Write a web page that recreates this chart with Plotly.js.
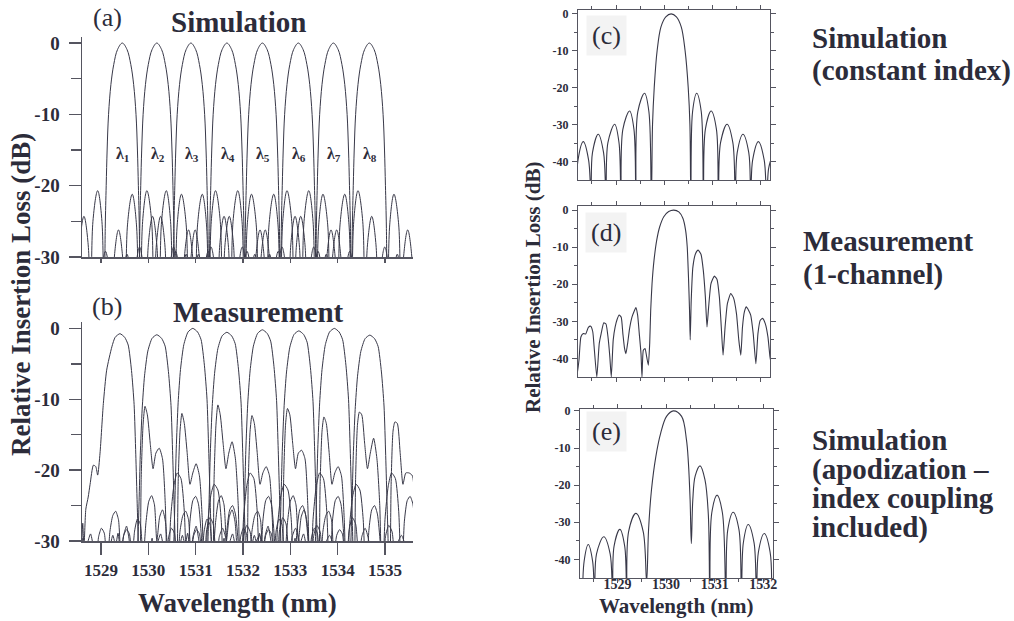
<!DOCTYPE html>
<html>
<head>
<meta charset="utf-8">
<script src="https://cdn.plot.ly/plotly-3.0.1.min.js"></script>
<style>html,body{margin:0;padding:0;background:#fff}#chart{width:1014px;height:621px}</style>
</head>
<body>
<div id="chart"></div>
<script>
// ---------------- DATA ----------------
// Panel (a): simulated 8-channel response
const chanLabels = ['λ<sub>1</sub>','λ<sub>2</sub>','λ<sub>3</sub>','λ<sub>4</sub>','λ<sub>5</sub>','λ<sub>6</sub>','λ<sub>7</sub>','λ<sub>8</sub>'];
const aCenters = [1529.45, 1530.18, 1530.90, 1531.66, 1532.41, 1533.17, 1533.91, 1534.67];
const aParity  = [0, 1, 0, 1, 0, 1, 0, 1];
// channel shape: offset from channel centre (nm)
const simOffsets = [-1.50,-1.42,-1.35,-1.28,-1.22,-1.17,-1.085,-1.00,-0.95,-0.90,-0.81,-0.72,-0.66,-0.62,-0.52,-0.43,-0.39,-0.36,-0.34,-0.32,-0.29,-0.24,-0.18,-0.10,0,
                     0.10,0.18,0.24,0.29,0.32,0.34,0.36,0.39,0.43,0.52,0.62,0.66,0.72,0.81,0.90,0.95,1.00,1.085,1.17,1.22,1.28,1.35,1.42,1.50];
const simOddDb  = [-45,-32.5,-29.6,-32.5,-45,-32,-28.6,-32,-45,-28.3,-24.3,-28.3,-45,-25,-20.7,-25,-45,-26,-20,-15,-10,-5.8,-3,-0.9,0,
                   -0.9,-3,-5.8,-10,-15,-20,-26,-45,-25,-20.7,-25,-45,-28.3,-24.3,-28.3,-45,-32,-28.6,-32,-45,-32.5,-29.6,-32.5,-45];
const simEvenDb = [-45,-33,-30.2,-33,-45,-32.5,-29.2,-32.5,-45,-30.2,-26.2,-30.2,-45,-25.5,-21.2,-25.5,-45,-26,-20,-15,-10,-5.8,-3,-0.9,0,
                   -0.9,-3,-5.8,-10,-15,-20,-26,-45,-25.5,-21.2,-25.5,-45,-30.2,-26.2,-30.2,-45,-32.5,-29.2,-32.5,-45,-33,-30.2,-33,-45];

// Panel (b): measured 8-channel response
const bCenters = [1529.40, 1530.18, 1530.94, 1531.66, 1532.41, 1533.18, 1533.93, 1534.68];
const bParity  = [0, 1, 0, 1, 0, 1, 0, 1];
const bPeakDb  = [-0.75, -0.9, 0, -0.55, -0.2, -0.35, 0, -0.95];
const bSide1Db = [-11.0, -12.0, -10.8, -12.3, -11.3, -12.5, -11.8, -13.2];
const bSide2Db = [-16.9, -19.1, -16.0, -19.5, -17.2, -19.5, -15.5, -20.4];
const measOffsets = [-1.75,-1.69,-1.63,-1.58,-1.52,-1.46,-1.40,-1.35,-1.29,-1.23,-1.17,-1.11,-1.05,-0.99,-0.93,-0.87,-0.81,-0.76,-0.70,-0.64,-0.58,-0.52,-0.46,
                     -0.40,-0.375,-0.35,-0.31,-0.26,-0.19,-0.10,0,0.10,0.175,0.245,0.30,0.335,0.365,0.39,0.42,
                     0.45,0.49,0.53,0.58,0.64,0.70,0.76,0.83,0.90,0.96,1.01,1.07,1.14,1.21,1.29,1.36,1.42,1.48,1.54,1.60,1.66,1.72,1.77,1.83,1.90,1.97,2.04,2.10,2.17,2.24,2.30];
const measOddDb = [-31,-29.2,-30.6,-28.9,-31.8,-29.2,-27.9,-29.6,-33,-28.6,-26.9,-27.6,-32.5,-27.4,-24.4,-23.6,-24.9,-30,-26.6,-25.6,-27.2,-33,-40,
                   -30,-23.5,-17,-10.5,-5.8,-2.3,-0.5,0,-0.5,-1.6,-5.2,-10,-17,-24,-30,-40,
                   -21,-13.5,-11,-12.2,-16.2,-19.8,-17.6,-16.5,-18.4,-25,-38,-27,-22.2,-20.4,-21.2,-25.8,-36,-27.2,-24.3,-23.7,-24.8,-29.3,-37,-28.6,-26.7,-27.6,-33,-29.4,-28.2,-29.7,-34];
const measEvenDb = [-31.5,-30,-31.5,-29.6,-33,-30.2,-29,-30.5,-34,-29.4,-28.2,-28.9,-33.5,-28.6,-26.4,-25.8,-27,-32,-29.2,-28.4,-29,-34,-40,
                    -30,-23.5,-17,-10.5,-5.8,-2.3,-0.5,0,-0.5,-1.6,-5.2,-10,-17,-24,-30,-40,
                    -22,-14.5,-12,-13.4,-17.5,-22,-20.4,-19.4,-20.8,-27,-38,-28,-23.6,-22,-22.8,-27,-37,-28.5,-25.6,-25,-26.2,-30.3,-37,-29.4,-27.8,-28.7,-34,-30.1,-29.2,-30.5,-34];
// left flank of channel 1 (visible at the left edge of panel b)
const b1LeftWl = [1528.59,1528.615,1528.64,1528.68,1528.73,1528.77,1528.84,1528.89,1528.93,1528.98,1529.05,1529.12,1529.23];
const b1LeftDb = [-31,-27.5,-31,-25.5,-23.8,-22,-19.3,-19.5,-20.7,-17.6,-10.6,-5.9,-2.6];

// Panel (c): simulation, constant index
const cWl = [1528.18,1528.21,1528.32,1528.43,1528.48,1528.51,1528.63,1528.74,1528.79,1528.83,1528.97,1529.06,1529.10,1529.14,1529.28,1529.37,1529.41,1529.45,1529.59,1529.68,1529.73,
             1529.755,1529.79,1529.85,1529.93,1530.03,1530.14,1530.25,1530.35,1530.43,1530.495,1530.53,1530.55,
             1530.585,1530.67,1530.765,1530.81,1530.85,1530.97,1531.08,1531.12,1531.165,1531.30,1531.42,1531.47,1531.51,1531.63,1531.75,1531.79,1531.83,1531.95,1532.07,1532.12,1532.16,1532.22];
const cDb = [-50,-39.6,-34.6,-39.6,-50,-37.6,-32.6,-37.6,-50,-34.9,-29.9,-34.9,-50,-31.3,-26.3,-31.3,-50,-26.5,-21.5,-26.5,-50,
             -30,-20,-10,-3.5,-0.8,0,-0.8,-3.5,-10,-20,-30,-50,
             -26.5,-21.5,-26.5,-50,-31.3,-26.3,-31.3,-50,-34.9,-29.9,-34.9,-50,-37.6,-32.6,-37.6,-50,-39.6,-34.6,-39.6,-50,-42,-39];

// Panel (d): measurement, 1 channel
const dWl = [1528.148,1528.18,1528.23,1528.27,1528.32,1528.37,1528.425,1528.474,1528.516,1528.55,1528.60,1528.65,1528.69,1528.745,1528.79,1528.835,1528.87,1528.90,
             1528.94,1528.98,1529.02,1529.064,1529.106,1529.14,1529.175,1529.203,1529.238,1529.28,1529.33,1529.37,1529.41,1529.446,1529.48,1529.516,1529.536,
             1529.564,1529.60,1529.634,1529.668,1529.696,1529.717,1529.745,1529.786,1529.842,1529.904,1529.988,1530.09,1530.196,1530.30,1530.384,1530.44,
             1530.474,1530.50,1530.522,1530.536,1530.557,1530.592,1530.648,1530.70,1530.759,1530.807,1530.85,1530.884,1530.918,1530.967,1531.036,1531.092,
             1531.14,1531.18,1531.217,1531.259,1531.307,1531.376,1531.432,1531.495,1531.543,1531.585,1531.62,1531.66,1531.70,1531.745,1531.79,1531.842,
             1531.897,1531.94,1531.988,1532.036,1532.092,1532.147,1532.19,1532.22];
const dDb = [-39.6,-45,-40.5,-34.2,-33.3,-33.4,-31.6,-31.3,-32.8,-37.8,-45,-36,-33.3,-30.4,-30.7,-34.6,-39.6,-45,
             -35,-31.5,-29.5,-28.3,-28.9,-33.3,-37.3,-38.7,-36,-31.9,-28.8,-27.4,-26.3,-28.3,-33.3,-38.7,-45,
             -37.8,-37.3,-39.6,-41.8,-36,-27,-19.8,-13.5,-8.1,-4.5,-1.8,-0.4,0,-0.5,-2.2,-5.4,
             -9.9,-18,-27,-35,-24.3,-15.3,-11.7,-10.8,-11.9,-16.2,-23.4,-31.5,-26.1,-19.8,-17.8,-18.7,
             -23.4,-31.5,-39.1,-31.5,-25.2,-22.5,-23.6,-27.9,-35,-39.1,-31.5,-27.4,-26.1,-27,-28.3,-33.3,
             -41.4,-33.3,-29.7,-29.2,-30.6,-34.2,-39.6,-41.8];

// Panel (e): simulation with apodization and index coupling
const eWl = [1528.285,1528.315,1528.40,1528.49,1528.53,1528.57,1528.72,1528.85,1528.90,1528.93,1529.05,1529.15,1529.19,1529.23,1529.38,1529.53,1529.60,
             1529.64,1529.70,1529.79,1529.89,1530.01,1530.15,1530.32,1530.42,1530.46,1530.495,1530.52,
             1530.55,1530.60,1530.70,1530.80,1530.87,1530.90,1530.94,1531.05,1531.16,1531.23,1531.27,1531.38,1531.50,1531.55,1531.59,1531.69,1531.81,1531.86,1531.90,1532.02,1532.14,1532.17];
const eDb = [-50,-40.5,-36,-40.5,-50,-38.5,-33.9,-38.5,-50,-36.5,-31.9,-36.5,-50,-32.5,-27.6,-32.5,-46,
             -32,-21.3,-12.3,-6,-1.5,0,-1.5,-7.8,-14,-24,-35.7,
             -24,-17.5,-14.8,-18.5,-28,-50,-27.5,-22.7,-27.5,-50,-32,-27.3,-32,-50,-35.5,-30.6,-35.5,-50,-38,-33,-38,-50];

const xTicksBig = [1529,1530,1531,1532,1533,1534,1535];
const xTicksSmall = [1529,1530,1531,1532];
const yTicksBig = [0,-10,-20,-30];
const yTicksSmall = [0,-10,-20,-30,-40];

// ---------------- STYLE ----------------
const W = 1014, H = 621;
const FONT = '"Liberation Serif", "Times New Roman", serif';
const AX = '#555560';
const TXT = '#2c2c3a';
const LINE = '#383848';
const px = v => v / W;
const py = v => 1 - v / H;

const traces = [];
function addTrace(xs, ys, xa, ya, smooth, width) {
  traces.push({type:'scatter', mode:'lines', x:xs, y:ys, xaxis:xa, yaxis:ya,
    line:{color:LINE, width:width, shape:'spline', smoothing:smooth}, hoverinfo:'skip'});
}
// (a)
aCenters.forEach((c, i) => {
  const dbs = aParity[i] ? simEvenDb : simOddDb;
  addTrace(simOffsets.map(o => c + o), dbs, 'x', 'y', 1, 1);
});
// (b)
const SL1 = measOffsets.indexOf(0.53), SL2 = measOffsets.indexOf(0.83);
bCenters.forEach((c, i) => {
  const tmpl = bParity[i] ? measEvenDb : measOddDb;
  let xs = [], ys = [];
  measOffsets.forEach((o, k) => {
    if (i === 0 && o < -0.10) return;
    let v = tmpl[k];
    if (Math.abs(o) <= 0.39) v += bPeakDb[i];
    if (k === SL1) v = bSide1Db[i];
    if (k === SL2) v = bSide2Db[i];
    xs.push(c + o); ys.push(v);
  });
  if (i === 0) { xs = b1LeftWl.concat(xs); ys = b1LeftDb.concat(ys); }
  addTrace(xs, ys, 'x2', 'y2', 0.6, 1);
});
addTrace(cWl, cDb, 'x3', 'y3', 1, 1.1);
addTrace(dWl, dDb, 'x4', 'y4', 0.5, 1.1);
addTrace(eWl, eDb, 'x5', 'y5', 1, 1.1);

const tickTxt = a => a.map(v => '<b>' + String(v) + '</b>');

function bigY(domain, range, anchor) {
  return {domain, range, anchor, showline:true, linecolor:AX, linewidth:1.5, ticks:'outside', ticklen:12,
    tickwidth:1.5, tickcolor:AX, tickvals:yTicksBig, ticktext:tickTxt(yTicksBig), ticklabelstandoff:5,
    tickfont:{family:FONT, size:19, color:TXT, weight:'bold'}, showgrid:false, zeroline:false,
    minor:{tickvals:[-5,-15,-25], ticks:'outside', ticklen:10, tickcolor:AX, tickwidth:1.5}};
}
function bigX(domain, anchor, labels) {
  return {domain, range:[1528.599,1535.592], anchor, showline:true, linecolor:AX, linewidth:1.5,
    ticks:'outside', ticklen: labels ? 12 : 4, tickwidth:1.5, tickcolor:AX, tickvals:xTicksBig, ticktext:tickTxt(xTicksBig),
    showticklabels:labels, ticklabelstandoff:1, tickfont:{family:FONT, size:17, color:TXT, weight:'bold'},
    showgrid:false, zeroline:false};
}
function smallY(domain, range, anchor) {
  return {domain, range, anchor, showline:true, mirror:'allticks', linecolor:AX, linewidth:1, ticks:'outside', ticklen:5,
    tickcolor:AX, tickvals:yTicksSmall, ticktext:tickTxt(yTicksSmall), ticklabelstandoff:1,
    tickfont:{family:FONT, size:12, color:TXT, weight:'bold'}, showgrid:false, zeroline:false,
    minor:{tickvals:[-5,-15,-25,-35], ticks:'outside', ticklen:3, tickcolor:AX}};
}
function smallX(domain, range, anchor, labels) {
  return {domain, range, anchor, showline:true, mirror:'allticks', linecolor:AX, linewidth:1, ticks:'outside', ticklen:4,
    tickcolor:AX, tickvals:xTicksSmall, ticktext:tickTxt(xTicksSmall), showticklabels:labels, ticklabelstandoff:-11,
    tickfont:{family:FONT, size:14, color:TXT, weight:'bold'}, showgrid:false, zeroline:false,
    minor:{tickvals:[1528.5,1529.5,1530.5,1531.5], ticks:'outside', ticklen:3, tickcolor:AX}};
}

const ann = [];
function txt(text, x, y, size, opts) {
  ann.push(Object.assign({text, x:px(x), y:py(y), xref:'paper', yref:'paper', showarrow:false,
    xanchor:'center', yanchor:'middle', font:{family:FONT, size, color:TXT}}, opts || {}));
}
txt('(a)', 107, 17, 26);
txt('<b>Simulation</b>', 238, 22, 29);
txt('(b)', 107, 306, 26);
txt('<b>Measurement</b>', 258, 312, 29);
txt('<b>Relative Insertion Loss (dB)</b>', 21, 295, 27, {textangle:-90});
txt('<b>Wavelength (nm)</b>', 237, 603, 27);
txt('<b>Relative Insertion Loss (dB)</b>', 533, 288, 21, {textangle:-90});
txt('<b>Wavelength (nm)</b>', 676, 606, 21);
const boxOpts = {bgcolor:'#f3f3f3', borderpad:5};
txt('(c)', 606, 35, 26, boxOpts);
txt('(d)', 606, 232, 26, boxOpts);
txt('(e)', 606, 431, 26, boxOpts);
const leftOpts = {xanchor:'left'};
txt('<b>Simulation</b>', 810, 38, 29, leftOpts);
txt('<b>(constant index)</b>', 810, 71, 29, leftOpts);
txt('<b>Measurement</b>', 801, 241, 29, leftOpts);
txt('<b>(1-channel)</b>', 801, 274, 29, leftOpts);
txt('<b>Simulation</b>', 810, 440, 29, leftOpts);
txt('<b>(apodization –</b>', 810, 469, 29, leftOpts);
txt('<b>index coupling</b>', 810, 498, 29, leftOpts);
txt('<b>included)</b>', 810, 527, 29, leftOpts);
chanLabels.forEach((t, i) => {
  ann.push({text:'<b>' + t + '</b>', x:aCenters[i] + 0.02, y:-15.6, xref:'x', yref:'y', showarrow:false,
    xanchor:'center', yanchor:'middle', font:{family:FONT, size:16, color:TXT}});
});

const layout = {
  width:W, height:H, margin:{l:0, r:0, t:0, b:0}, paper_bgcolor:'#ffffff', plot_bgcolor:'#ffffff',
  showlegend:false, font:{family:FONT, color:TXT},
  xaxis: bigX([px(82), px(413)], 'y', false),
  yaxis: bigY([py(257), py(37)], [-30, 0.85], 'x'),
  xaxis2: bigX([px(82), px(413)], 'y2', true),
  yaxis2: bigY([py(541), py(322)], [-30, 0.9], 'x2'),
  xaxis3: smallX([px(578), px(770)], [1528.21, 1532.19], 'y3', false),
  yaxis3: smallY([py(180), py(10)], [-45, 1.05], 'x3'),
  xaxis4: smallX([px(578), px(770)], [1528.21, 1532.19], 'y4', false),
  yaxis4: smallY([py(377), py(206)], [-45, 1.1], 'x4'),
  xaxis5: smallX([px(580), px(773)], [1528.23, 1532.2], 'y5', true),
  yaxis5: smallY([py(578), py(409)], [-45, 0.5], 'x5'),
  annotations: ann
};
Plotly.newPlot('chart', traces, layout, {staticPlot:true, displayModeBar:false});
</script>
</body>
</html>
